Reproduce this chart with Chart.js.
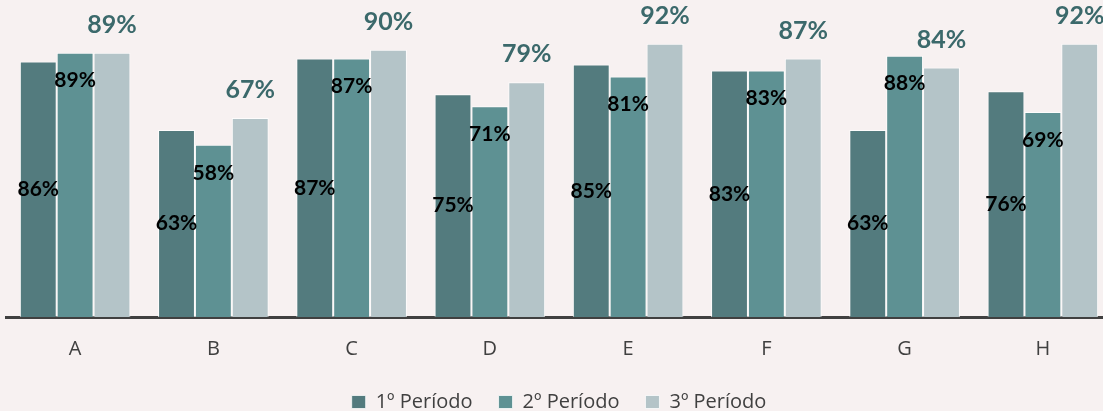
<!DOCTYPE html>
<html>
<head>
<meta charset="utf-8">
<script src="https://cdn.jsdelivr.net/npm/chart.js@4/dist/chart.umd.min.js"></script>
<style>
  html, body { margin: 0; padding: 0; background: #f7f1f1; overflow: hidden; }
  #wrap { width: 1112px; height: 426px; position: relative; }
</style>
</head>
<body>
<div id="wrap"><canvas id="chart"></canvas></div>
<script>
  /* ── Data ─────────────────────────────────────────────────────── */
  const categories = ["A", "B", "C", "D", "E", "F", "G", "H"];
  const periodo1 = [86, 63, 87, 75, 85, 83, 63, 76];
  const periodo2 = [89, 58, 87, 71, 81, 83, 88, 69];
  const periodo3 = [89, 67, 90, 79, 92, 87, 84, 92];
  const seriesNames = ["1º Período", "2º Período", "3º Período"];

  const LABEL_FONT = "Lato, 'Noto Sans', sans-serif";
  const TEXT_FONT = "'Open Sans', 'Noto Sans', sans-serif";

  /* ── Value labels: 1º centred, 2º near the top, 3º above the bar ── */
  const barLabels = {
    id: "barLabels",
    afterDatasetsDraw(chart) {
      const ctx = chart.ctx;
      ctx.save();
      ctx.textAlign = "center";
      ctx.textBaseline = "middle";
      chart.data.datasets.forEach(function (ds, i) {
        const meta = chart.getDatasetMeta(i);
        meta.data.forEach(function (bar, j) {
          const text = ds.data[j] + "%";
          let y;
          if (i === 0) {
            ctx.font = "bold 21px " + LABEL_FONT;
            ctx.fillStyle = "#000000";
            y = (bar.y + bar.base) / 2;
          } else if (i === 1) {
            ctx.font = "bold 21px " + LABEL_FONT;
            ctx.fillStyle = "#000000";
            y = bar.y + 28;
          } else {
            ctx.font = "bold 25px " + LABEL_FONT;
            ctx.fillStyle = "#3b696b";
            y = bar.y - 28;
          }
          ctx.fillText(text, bar.x, y);
        });
      });
      ctx.restore();
    }
  };

  const colors = ["#537b7e", "#5e9193", "#b4c4c8"];

  new Chart(document.getElementById("chart"), {
    type: "bar",
    data: {
      labels: categories,
      datasets: [periodo1, periodo2, periodo3].map(function (vals, i) {
        return {
          label: seriesNames[i],
          data: vals,
          backgroundColor: colors[i],
          borderColor: "rgba(255,255,255,0.75)",
          borderWidth: 1,
          categoryPercentage: 0.8,
          barPercentage: 1.0,
        };
      }),
    },
    options: {
      responsive: true,
      maintainAspectRatio: false,
      animation: false,
      layout: { padding: { left: 6, top: 20, right: 0, bottom: 4 } },
      plugins: {
        tooltip: { enabled: false },
        legend: {
          position: "bottom",
          labels: {
            color: "#404040",
            font: { family: TEXT_FONT, size: 20 },
            boxWidth: 14,
            boxHeight: 13,
            padding: 26,
          },
        },
      },
      scales: {
        x: {
          grid: { display: false, drawTicks: false },
          border: { color: "#404040", width: 3 },
          ticks: {
            color: "#404040",
            font: { family: TEXT_FONT, size: 20 },
            padding: 20,
          },
          // pull the legend up closer to the category labels
          afterFit: function (scale) { scale.height -= 15; },
        },
        y: {
          display: false,
          min: 0,
          max: 100,
        },
      },
    },
    plugins: [barLabels],
  });
</script>
</body>
</html>
